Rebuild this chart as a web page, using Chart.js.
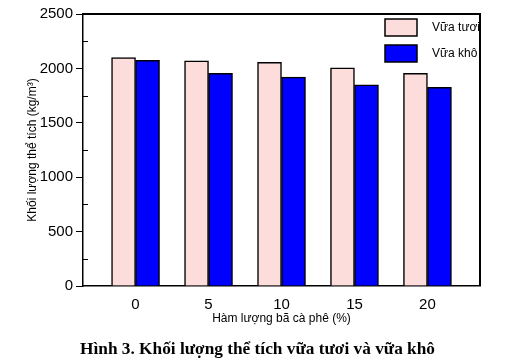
<!DOCTYPE html>
<html>
<head>
<meta charset="utf-8">
<script src="https://cdn.jsdelivr.net/npm/chart.js@4.4.0/dist/chart.umd.min.js"></script>
<style>
  html, body { margin: 0; padding: 0; background: #fff; overflow: hidden; }
  #wrap { position: relative; width: 515px; height: 364px; }
  #densityChart { display: block; }
  #caption { position: absolute; left: 0; width: 515px; top: 339px; text-align: center;
    font-family: 'Liberation Serif', serif; font-weight: bold; font-size: 17.3px; }
</style>
</head>
<body>
<div id="wrap">
  <canvas id="densityChart" width="515" height="364"></canvas>
  <div id="caption">Hình 3. Khối lượng thể tích vữa tươi và vữa khô</div>
</div>
<script>
const coffeeContent = [0, 5, 10, 15, 20];
const freshMortar = [2100, 2070, 2055, 2005, 1955];
const dryMortar = [2075, 1955, 1920, 1848, 1825];
const yTicks = [0, 500, 1000, 1500, 2000, 2500];

document.addEventListener('DOMContentLoaded', function() {
    const frame = {
        id: 'frame',
        afterDraw(chart) {
            const c = chart.ctx, a = chart.chartArea, y = chart.scales.y;
            c.save();
            c.fillStyle = '#000';
            // top and right edges of the box
            c.fillRect(a.left, a.top - 1, a.right - a.left + 1, 2);
            c.fillRect(a.right - 1, a.top - 1, 2, a.bottom - a.top + 1);
            // minor ticks, inward
            for (let i = 0; i < yTicks.length - 1; i++) {
                const py = Math.round(y.getPixelForValue((yTicks[i] + yTicks[i + 1]) / 2));
                c.fillRect(a.left, py, 5, 1);
            }
            // legend
            c.font = '12px "Liberation Sans", Arial, sans-serif';
            c.textAlign = 'left';
            c.textBaseline = 'middle';
            c.strokeStyle = '#000';
            chart.data.datasets.forEach(function(ds, i) {
                const bx = a.right - 95, by = a.top + 5 + i * 26;
                c.fillStyle = ds.backgroundColor;
                c.fillRect(bx, by, 32, 17);
                c.lineWidth = 1.5;
                c.strokeRect(bx, by, 32, 17);
                c.fillStyle = '#000';
                c.fillText(ds.label, bx + 47, by + 8.5);
            });
            c.restore();
        }
    };

    const ctx = document.getElementById('densityChart').getContext('2d');
    new Chart(ctx, {
        type: 'bar',
        data: {
            datasets: [{
                label: 'Vữa tươi',
                data: coffeeContent.map((x, i) => ({ x: x, y: freshMortar[i] })),
                backgroundColor: '#fddcdc',
                borderColor: '#000',
                borderWidth: 1.5,
                barThickness: 24
            }, {
                label: 'Vữa khô',
                data: coffeeContent.map((x, i) => ({ x: x, y: dryMortar[i] })),
                backgroundColor: '#0000ff',
                borderColor: '#000',
                borderWidth: 1.5,
                barThickness: 24
            }]
        },
        options: {
            responsive: false,
            animation: false,
            layout: { padding: { top: 14, right: 35, left: 0, bottom: 0 } },
            plugins: { legend: { display: false }, tooltip: { enabled: false } },
            scales: {
                x: {
                    type: 'linear',
                    min: -3.6,
                    max: 23.6,
                    offset: false,
                    afterBuildTicks: function(s) { s.ticks = coffeeContent.map(v => ({ value: v })); },
                    afterFit: function(s) { s.height = 78; },
                    grid: { display: false },
                    border: { color: '#000', width: 1.5 },
                    ticks: { color: '#000', padding: 2, maxRotation: 0,
                        callback: v => String(v),
                        font: { family: '"Liberation Sans", Arial', size: 15 } },
                    title: { display: true, text: 'Hàm lượng bã cà phê (%)', color: '#000',
                        padding: 38, font: { family: '"Liberation Sans", Arial', size: 12 } }
                },
                y: {
                    min: 0,
                    max: 2500,
                    afterBuildTicks: function(s) { s.ticks = yTicks.map(v => ({ value: v })); },
                    afterFit: function(s) { s.width = 83; },
                    grid: { drawOnChartArea: false, color: '#000', tickLength: 7 },
                    border: { color: '#000', width: 1.5 },
                    ticks: { color: '#000', padding: 3,
                        callback: v => String(v),
                        font: { family: '"Liberation Sans", Arial', size: 15 } },
                    title: { display: true, text: 'Khối lượng thể tích (kg/m³)', color: '#000',
                        padding: 25, font: { family: '"Liberation Sans", Arial', size: 12 } }
                }
            }
        },
        plugins: [frame]
    });
});
</script>
</body>
</html>
